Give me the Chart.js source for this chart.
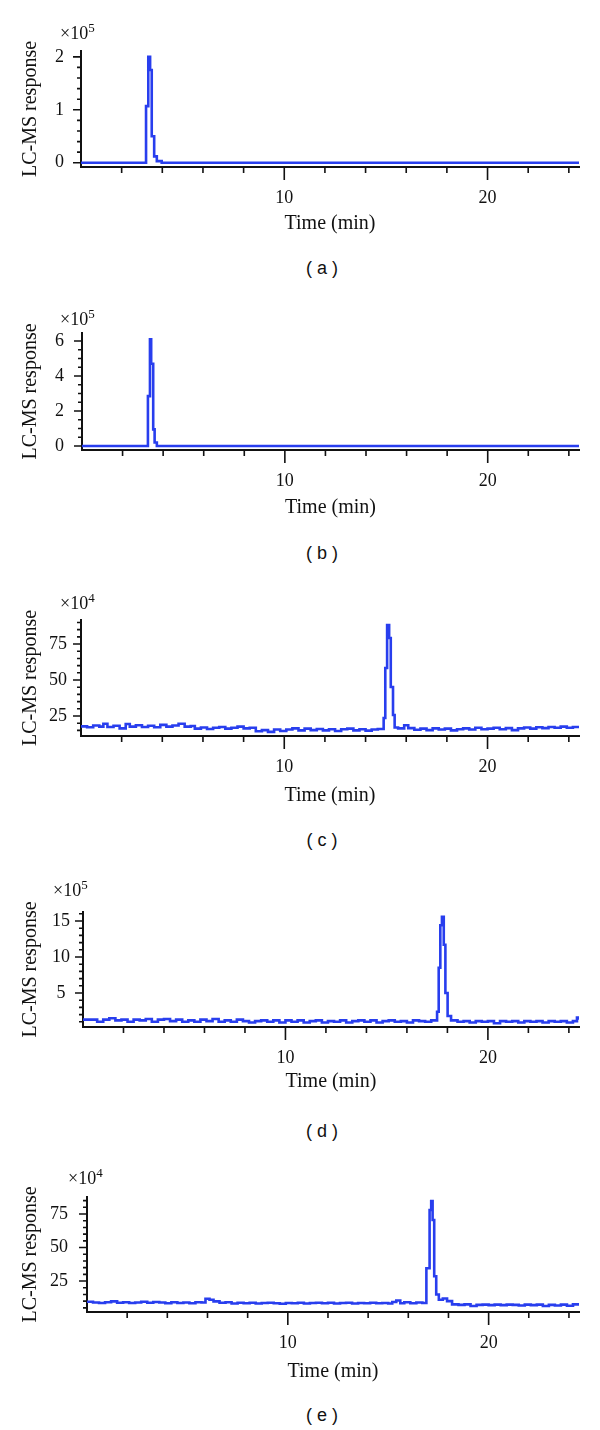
<!DOCTYPE html>
<html>
<head>
<meta charset="utf-8">
<script src="https://cdn.jsdelivr.net/npm/chart.js@4.4.1/dist/chart.umd.min.js"></script>
<style>
body { margin: 0; background: #fff; width: 600px; height: 1430px; position: relative; overflow: hidden; color: #111; }
canvas { position: absolute; left: 0; }
.mag { position: absolute; font-family: "Liberation Serif", serif; font-size: 18px; line-height: 18px; white-space: nowrap; }
.mag sup { font-size: 13px; vertical-align: 0; position: relative; top: -7px; }
.tag { position: absolute; font-family: "Liberation Sans", Arial, sans-serif; font-size: 18px; line-height: 18px; transform: translate(-50%, -50%); white-space: pre; }
</style>
</head>
<body>
<script>
// time (min), response pairs
var traceA = [[0,0],[3.2,1.07],[3.31,2.0],[3.4,1.75],[3.48,0.5],[3.6,0.12],[3.73,0.03],[3.97,0],[24.5,0]];
var traceB = [[0,0],[3.25,2.85],[3.35,6.1],[3.41,4.7],[3.51,0.95],[3.58,0.2],[3.69,0],[24.5,0]];
var traceC = [[0,17.8],[0.3,17.2],[0.6,18.4],[0.9,17.6],[1.1,19.6],[1.3,17.4],[1.6,18.2],[1.9,16.4],[2.2,19.4],[2.4,17.6],
  [2.7,18.6],[3.0,17.4],[3.3,18.2],[3.6,17.2],[3.9,18.8],[4.2,17.6],[4.5,18.4],[4.8,19.6],[5.1,17.6],[5.4,18.0],
  [5.6,16.2],[5.9,17.0],[6.2,16.0],[6.5,16.8],[6.8,17.4],[7.1,16.2],[7.4,16.8],[7.7,17.6],[8.0,16.4],[8.3,16.8],
  [8.6,14.4],[8.9,15.2],[9.2,14.0],[9.5,15.6],[9.8,14.6],[10.1,15.6],[10.4,16.4],[10.7,15.0],[11.0,16.2],[11.3,15.2],
  [11.6,16.0],[11.9,15.0],[12.2,15.8],[12.5,14.6],[12.8,15.8],[13.1,16.2],[13.4,15.0],[13.7,15.8],[14.0,14.8],[14.3,15.6],
  [14.6,16.0],[14.89,23.6],[14.97,58.3],[15.06,88.2],[15.16,79.2],[15.24,45.1],[15.35,25.7],[15.43,17.0],[15.6,16.4],[15.9,18.6],
  [16.1,16.6],[16.4,15.4],[16.7,16.2],[17.0,15.2],[17.3,16.4],[17.6,15.6],[17.9,16.2],[18.2,15.0],[18.5,15.8],[18.8,16.4],
  [19.1,15.6],[19.4,16.8],[19.7,15.8],[20.0,16.2],[20.3,16.8],[20.6,15.8],[20.9,16.6],[21.2,15.2],[21.5,16.4],[21.8,17.0],
  [22.1,16.2],[22.4,17.2],[22.7,16.6],[23.0,17.4],[23.3,16.8],[23.6,17.6],[23.9,16.8],[24.2,17.4],[24.5,17.4]];
var traceD = [[0,1.3],[0.4,1.3],[0.7,1.0],[1.0,1.3],[1.3,1.5],[1.6,1.2],[1.9,1.3],[2.2,1.0],[2.5,1.3],[2.8,1.2],
  [3.1,1.4],[3.4,1.0],[3.7,1.3],[4.0,1.4],[4.3,1.1],[4.6,1.3],[4.9,1.0],[5.2,1.2],[5.5,1.0],[5.8,1.3],
  [6.1,1.1],[6.4,1.4],[6.7,1.0],[7.0,1.2],[7.3,1.0],[7.6,1.3],[7.9,1.1],[8.2,0.9],[8.5,1.1],[8.8,1.2],
  [9.1,1.0],[9.4,1.2],[9.7,0.9],[10.0,1.2],[10.3,1.0],[10.6,1.2],[10.9,0.9],[11.2,1.1],[11.5,1.2],[11.8,0.9],
  [12.1,1.1],[12.4,1.0],[12.7,1.2],[13.0,0.9],[13.3,1.1],[13.6,1.2],[13.9,1.0],[14.2,1.2],[14.5,0.9],[14.8,1.1],
  [15.1,1.2],[15.4,1.0],[15.7,1.1],[16.0,0.9],[16.3,1.2],[16.6,1.1],[16.9,1.0],[17.2,1.2],[17.49,2.4],[17.57,8.5],
  [17.65,14.4],[17.73,15.6],[17.82,11.7],[17.9,5.0],[18.01,1.8],[18.18,1.2],[18.5,1.0],[18.8,1.1],[19.1,0.9],[19.4,1.1],
  [19.7,1.0],[20.0,1.1],[20.3,0.8],[20.6,1.1],[20.9,1.0],[21.2,1.1],[21.5,0.9],[21.8,1.1],[22.1,1.0],[22.4,1.1],
  [22.7,0.9],[23.0,1.1],[23.3,1.0],[23.6,1.1],[23.9,0.9],[24.2,1.1],[24.4,1.6],[24.5,1.3]];
var traceE = [[0,9.6],[0.3,9.0],[0.6,8.6],[0.9,9.2],[1.2,9.8],[1.5,8.8],[1.8,9.2],[2.1,8.6],[2.4,9.0],[2.7,9.6],
  [3.0,8.8],[3.3,9.4],[3.6,9.0],[3.9,8.4],[4.2,9.2],[4.5,8.6],[4.8,9.0],[5.1,8.4],[5.4,9.2],[5.7,9.0],
  [5.9,11.8],[6.1,11.0],[6.3,9.8],[6.6,8.8],[6.9,9.2],[7.2,8.2],[7.5,8.8],[7.8,8.4],[8.1,8.8],[8.4,8.2],
  [8.7,8.6],[9.0,8.8],[9.3,8.4],[9.6,8.0],[9.9,8.6],[10.2,8.4],[10.5,8.8],[10.8,8.2],[11.1,8.6],[11.4,8.8],
  [11.7,8.4],[12.0,8.8],[12.3,8.2],[12.6,8.6],[12.9,8.8],[13.2,8.2],[13.5,8.6],[13.8,8.4],[14.1,8.8],[14.4,8.4],
  [14.7,8.6],[15.0,8.2],[15.2,9.4],[15.4,10.5],[15.6,8.4],[15.8,9.2],[16.1,8.4],[16.4,9.0],[16.7,8.6],[16.9,34.5],
  [17.06,78],[17.14,84.7],[17.21,70.5],[17.29,28.6],[17.39,15],[17.52,11],[17.72,12.0],[17.93,10.0],[18.18,7.6],[18.5,7.2],
  [18.8,7.6],[19.1,6.4],[19.4,7.2],[19.7,7.4],[20.0,7.0],[20.3,7.4],[20.6,7.0],[20.9,7.4],[21.2,7.2],[21.5,6.8],
  [21.8,7.4],[22.1,7.0],[22.4,7.4],[22.7,6.4],[23.0,7.2],[23.3,6.8],[23.6,7.4],[23.9,6.6],[24.2,7.6],[24.5,8.0]];

var traces = [traceA, traceB, traceC, traceD, traceE];
var panelTags = ['( a )', '( b )', '( c )', '( d )', '( e )'];
var exponents = ['5', '5', '4', '5', '4'];
var yRanges = [[-0.08, 2.11], [-0.23, 6.46], [11.1, 91.7], [0.28, 16.25], [1.9, 87.7]];
var yMajor = [[0, 1, 2], [0, 2, 4, 6], [25, 50, 75], [5, 10, 15], [25, 50, 75]];
var yMinorStep = [0.2, 0.5, 5, 1, 5];
var xMajor = [10, 20];
var xMinor = [2, 4, 6, 8, 12, 14, 16, 18, 22, 24];
var yTitle = 'LC-MS response';
var xTitle = 'Time (min)';

// layout of each panel on the page
var boxes = [
  {left: 81, top: 51, bottom: 167, pad: 17, titleOff: 57, tagY: 268, tagX: 322, magX: 60, magY: 24},
  {left: 82, top: 333, bottom: 450, pad: 18, titleOff: 58, tagY: 553, tagX: 322, magX: 60, magY: 310},
  {left: 81, top: 620, bottom: 736, pad: 14, titleOff: 60, tagY: 840, tagX: 322, magX: 60, magY: 594},
  {left: 83, top: 912, bottom: 1027, pad: 13, titleOff: 55, tagY: 1131, tagX: 322, magX: 53, magY: 881},
  {left: 87, top: 1197, bottom: 1312, pad: 19, titleOff: 60, tagY: 1415, tagX: 322, magX: 68, magY: 1169}
];

var SERIF = '"Liberation Serif", "Times New Roman", serif';
var INK = '#111';
var LINE = 'rgb(40, 62, 238)';
var PADT = 30, XH = 75;

var tickMarks = {
  id: 'tickMarks',
  afterDraw: function (chart) {
    var i = chart.options.plugins.tickMarks.idx;
    var ctx = chart.ctx, xs = chart.scales.x, ys = chart.scales.y;
    ctx.save();
    ctx.strokeStyle = INK;
    ctx.lineWidth = 1.6;
    ctx.beginPath();
    xMinor.forEach(function (v) {
      var px = xs.getPixelForValue(v);
      ctx.moveTo(px, ys.bottom); ctx.lineTo(px, ys.bottom + 6);
    });
    xMajor.forEach(function (v) {
      var px = xs.getPixelForValue(v);
      ctx.moveTo(px, ys.bottom); ctx.lineTo(px, ys.bottom + 13);
    });
    var step = yMinorStep[i];
    var k0 = Math.ceil(ys.min / step - 1e-6), k1 = Math.floor(ys.max / step + 1e-6);
    for (var k = k0; k <= k1; k++) {
      var v = k * step;
      var major = yMajor[i].some(function (m) { return Math.abs(m - v) < 1e-6; });
      var py = ys.getPixelForValue(v);
      ctx.moveTo(xs.left, py); ctx.lineTo(xs.left - (major ? 8 : 4), py);
    }
    ctx.stroke();
    ctx.restore();
  }
};

traces.forEach(function (trace, i) {
  var b = boxes[i];
  var cv = document.createElement('canvas');
  cv.width = 600;
  cv.height = PADT + (b.bottom - b.top) + XH;
  cv.style.top = (b.top - PADT) + 'px';
  document.body.appendChild(cv);

  new Chart(cv.getContext('2d'), {
    type: 'line',
    data: {
      datasets: [{
        data: trace.map(function (p) { return {x: p[0], y: p[1]}; }),
        borderColor: LINE,
        borderWidth: 2.6,
        pointRadius: 0,
        stepped: true,
        tension: 0
      }]
    },
    options: {
      responsive: false,
      animation: false,
      events: [],
      layout: {padding: {top: PADT, right: 21, left: 0, bottom: 0}},
      plugins: {legend: {display: false}, tooltip: {enabled: false}, tickMarks: {idx: i}},
      scales: {
        x: {
          type: 'linear', min: 0, max: 24.5,
          afterFit: function (s) { s.height = XH; },
          afterBuildTicks: function (s) { s.ticks = xMajor.map(function (v) { return {value: v}; }); },
          grid: {display: false, drawTicks: false},
          border: {display: true, color: INK, width: 2},
          ticks: {padding: 20, color: INK, font: {family: SERIF, size: 18}, maxRotation: 0, autoSkip: false},
          title: {display: true, text: xTitle, color: INK, font: {family: SERIF, size: 20},
                  padding: {top: 0, bottom: XH - 12 - b.titleOff}}
        },
        y: {
          type: 'linear', min: yRanges[i][0], max: yRanges[i][1],
          afterFit: function (s) { s.width = b.left; },
          afterBuildTicks: function (s) { s.ticks = yMajor[i].map(function (v) { return {value: v}; }); },
          grid: {display: false, drawTicks: false},
          border: {display: true, color: INK, width: 2},
          ticks: {padding: b.pad, crossAlign: 'center', color: INK, font: {family: SERIF, size: 18}},
          title: {display: true, text: yTitle, color: INK, font: {family: SERIF, size: 20},
                  padding: {top: 19, bottom: 0}}
        }
      }
    },
    plugins: [tickMarks]
  });

  var mag = document.createElement('div');
  mag.className = 'mag';
  mag.style.left = b.magX + 'px';
  mag.style.top = b.magY + 'px';
  mag.innerHTML = '\u00d710<sup>' + exponents[i] + '</sup>';
  document.body.appendChild(mag);

  var tag = document.createElement('div');
  tag.className = 'tag';
  tag.style.left = b.tagX + 'px';
  tag.style.top = b.tagY + 'px';
  tag.textContent = panelTags[i];
  document.body.appendChild(tag);
});
</script>
</body>
</html>
